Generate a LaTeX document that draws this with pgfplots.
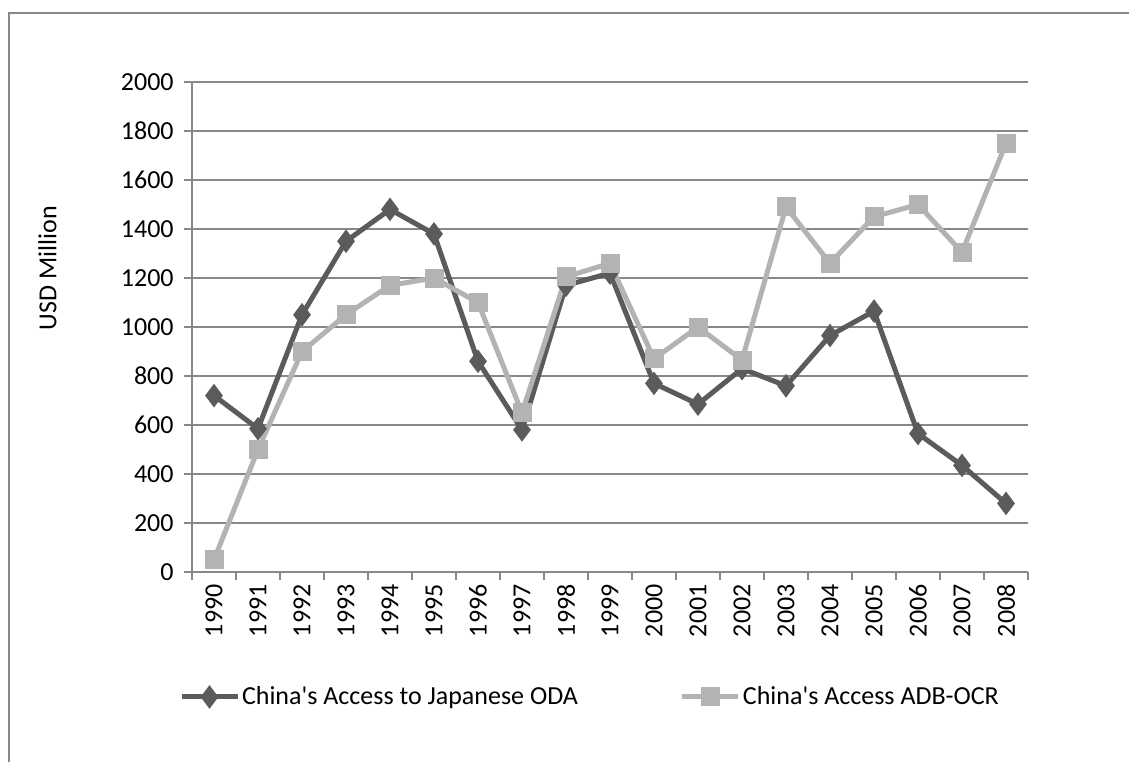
\documentclass[border=0pt]{standalone}
\usepackage{fontspec}
\setmainfont{Carlito}
\usepackage{pgfplots}
\pgfplotsset{compat=1.18}
\definecolor{dark}{HTML}{5B5B5B}
\definecolor{light}{HTML}{B3B3B3}
\definecolor{gridc}{HTML}{888888}
\begin{document}
\fontsize{13}{15}\selectfont
\begin{tikzpicture}
\useasboundingbox (0,0) rectangle (564.5pt,381pt);
\draw[gridc, line width=1pt] (4.5pt,0) -- (4.5pt,374.5pt) -- (570pt,374.5pt);
\begin{axis}[
  at={(96pt,95pt)}, anchor=south west,
  scale only axis, width=418pt, height=245pt,
  xmin=-0.5, xmax=18.5, ymin=0, ymax=2000,
  ytick={0,200,...,2000},
  xtick={0,...,18},
  xticklabels={1990,1991,1992,1993,1994,1995,1996,1997,1998,1999,2000,2001,2002,2003,2004,2005,2006,2007,2008},
  minor xtick={-0.5,0.5,...,18.5},
  major x tick style={draw=none},
  tick align=outside,
  major tick length=4pt, minor tick length=4pt,
  tick style={gridc, line width=0.75pt},
  axis x line*=bottom, axis y line*=left,
  axis line style={gridc, line width=0.75pt, -},
  ymajorgrids, grid style={gridc, line width=0.75pt},
  /pgf/number format/assume math mode=true,
  /pgf/number format/1000 sep={},
  ticklabel style={font=\fontsize{13}{15}\selectfont, text=black},
  xticklabel style={rotate=90, anchor=east, inner sep=2pt},
  yticklabel style={inner sep=2pt, xshift=-3pt},
  ylabel={USD Million},
  ylabel style={at={(axis description cs:-0.173,0.62)}, anchor=center, font=\fontsize{13}{15}\selectfont},
  legend columns=2,
  legend style={at={(axis description cs:0.476,-0.255)}, anchor=center, draw=none, fill=none,
    font=\fontsize{13}{15}\selectfont, nodes={inner sep=1pt},
    /tikz/every even column/.append style={column sep=50pt}},
  legend image code/.code={\draw[mark repeat=2,mark phase=2] plot coordinates {(0pt,0pt) (14pt,0pt) (28pt,0pt)};},
  clip=false,
]
\addplot[dark, line width=2.5pt, mark=diamond*, mark size=5.5pt, mark options={solid, line width=0.5pt, fill=dark}]
coordinates {
(0,720) (1,585) (2,1050) (3,1350) (4,1480) (5,1380) (6,860) (7,580) (8,1170) (9,1220)
(10,770) (11,685) (12,830) (13,760) (14,965) (15,1065) (16,565) (17,435) (18,280)
};
\addlegendentry{China\textquotesingle s Access to Japanese ODA}
\addplot[light, line width=2.5pt, mark=square*, mark size=4.5pt, mark options={solid, line width=0.5pt, fill=light}]
coordinates {
(0,50) (1,500) (2,900) (3,1050) (4,1170) (5,1200) (6,1100) (7,650) (8,1205) (9,1260)
(10,870) (11,1000) (12,865) (13,1490) (14,1260) (15,1450) (16,1500) (17,1305) (18,1750)
};
\addlegendentry{China\textquotesingle s Access ADB-OCR}
\end{axis}
\end{tikzpicture}
\end{document}
